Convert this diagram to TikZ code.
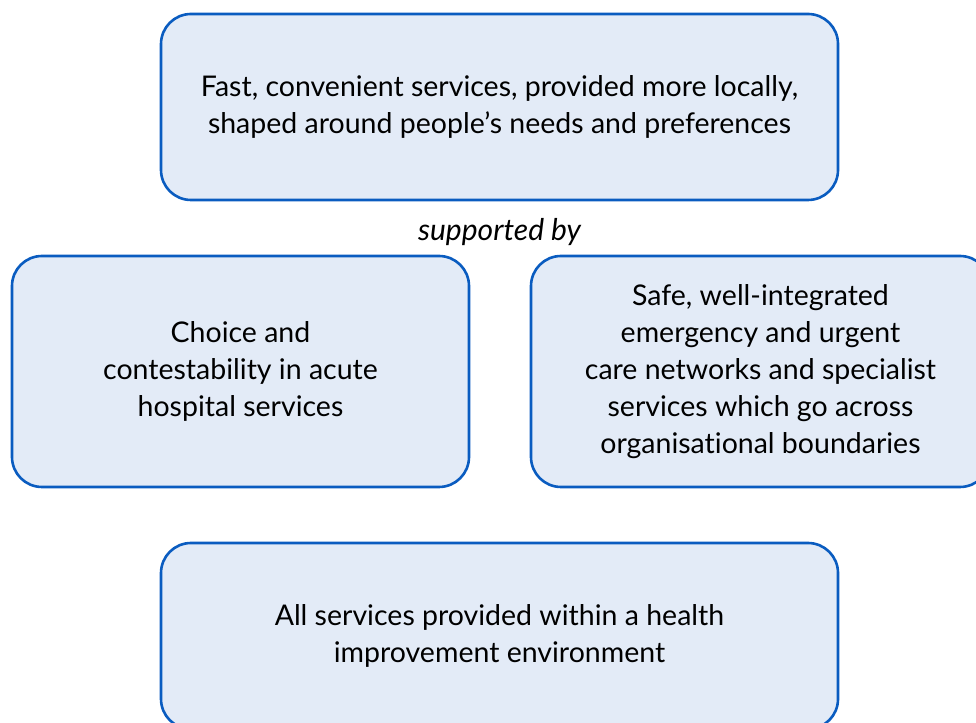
\documentclass[tikz,border=0pt]{standalone}
\usepackage{fontspec}
\setmainfont{Lato}[Ligatures=NoCommon]
\usetikzlibrary{positioning}
\definecolor{boxfill}{HTML}{E3EBF7}
\definecolor{boxline}{HTML}{0A5CC0}
\tikzset{aim/.style={draw=boxline,fill=boxfill,line width=2.6pt,rounded corners=30pt,
    align=center,font=\fontsize{28.5}{37}\selectfont,inner sep=0pt}}

\begin{document}
\begin{tikzpicture}[x=1pt,y=1pt]
                   \useasboundingbox (0,0) rectangle (976,722);
                   \clip (0,0) rectangle (976,722);
                   \node[aim,minimum width=677pt,minimum height=186pt] (local) at (499.5,615)
                        {Fast, convenient services, provided more locally,\\shaped around people's needs and preferences};
                   \node[font=\fontsize{30}{34}\selectfont\itshape] (support) [below=14pt of local] {supported by};
                   \node[aim,minimum width=457pt,minimum height=231pt] (choice) at (240.5,350.5)
                        {Choice and\\contestability in acute\\hospital services};
                   \node[aim,minimum width=459pt,minimum height=231pt] (networks) at (760.5,350.5)
                        {Safe, well-integrated\\emergency and urgent\\care networks and specialist\\services which go across\\organisational boundaries};
                   \node[aim,minimum width=677pt,minimum height=186pt] (health) at (499.5,86)
                        {All services provided within a health\\improvement environment};
                \end{tikzpicture}
\end{document}
